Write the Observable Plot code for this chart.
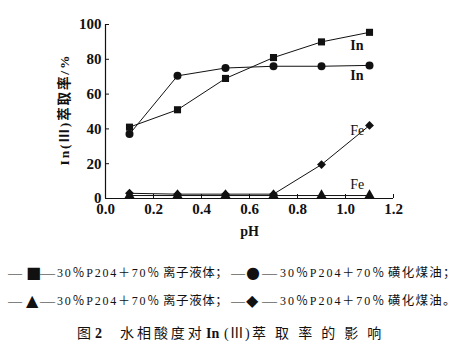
<!DOCTYPE html>
<html><head><meta charset="utf-8">
<script src="https://cdn.jsdelivr.net/npm/d3@7"></script>
<script src="https://cdn.jsdelivr.net/npm/@observablehq/plot@0.6"></script>
<style>
body{margin:0;background:#fff;width:457px;height:353px;overflow:hidden;font-family:"Liberation Serif","Noto Sans CJK SC",serif;color:#111;}
#chart svg{display:block;}
.seg{position:absolute;white-space:nowrap;}
.sym{font-family:"DejaVu Sans",sans-serif;}
</style></head>
<body>
<div id="chart"></div>
<div id="notes"></div>
<script>
const ph = [0.1, 0.3, 0.5, 0.7, 0.9, 1.1];
const inIonic = [41, 51, 69, 81, 90, 95.5];
const inKerosene = [37, 70.5, 75, 76, 76, 76.5];
const feIonic = [1.7, 1.7, 1.7, 1.7, 1.7, 1.7];
const feKerosene = [3, 2.5, 2.5, 2.5, 19.5, 42];
const xTicks = [0, 0.2, 0.4, 0.6, 0.8, 1.0, 1.2];
const yTicks = [0, 20, 40, 60, 80, 100];
const seriesNames = ["inIonic", "inKerosene", "feIonic", "feKerosene"];
const seriesSymbols = ["square", "circle", "triangle", "diamond2"];
const seriesVals = [inIonic, inKerosene, feIonic, feKerosene];
const labels = [
  {x: 1.02, y: 88, t: "In", bold: true},
  {x: 1.02, y: 70.5, t: "In", bold: true},
  {x: 1.02, y: 39, t: "Fe", bold: false},
  {x: 1.02, y: 8, t: "Fe", bold: false}
];
const yLabel = "In(Ⅲ)萃取率/%";
const xLabel = "pH";
const legendSymbols = ["■", "●", "▲", "◆"];
const legendSolvent = ["30％P204＋70％", "30％P204＋70％", "30％P204＋70％", "30％P204＋70％"];
const legendName = ["离子液体；", "磺化煤油；", "离子液体；", "磺化煤油。"];
const captionParts = ["图", "2", "水相酸度对", "In", "(Ⅲ)", "萃取率的影响"];
const FF = "'Liberation Serif', 'Noto Sans CJK SC', serif";

const data = seriesNames.flatMap((s, i) => ph.map((p, j) => ({s, sym: seriesSymbols[i], x: p, y: seriesVals[i][j]})));

const plot = Plot.plot({
  width: 457, height: 250,
  marginLeft: 105, marginRight: 64, marginTop: 24, marginBottom: 52,
  style: {fontFamily: FF, background: "#fff", color: "#111"},
  x: {domain: [0, 1.2], ticks: xTicks, tickFormat: d3.format(".1f"), label: null},
  y: {domain: [0, 100], ticks: yTicks, label: null},
  symbol: {domain: seriesSymbols, range: seriesSymbols},
  marks: [
    Plot.axisX({ticks: xTicks, tickFormat: d3.format(".1f"), tickSize: -4, tickPadding: 9, fontSize: 15, fontWeight: "bold", fontFamily: FF, label: null}),
    Plot.axisY({ticks: yTicks, tickSize: -4, tickPadding: 8, fontSize: 15, fontWeight: "bold", fontFamily: FF, label: null}),
    Plot.ruleY([0], {stroke: "#111", strokeWidth: 1.2}),
    Plot.ruleX([0], {stroke: "#111", strokeWidth: 1.2}),
    Plot.line(data, {x: "x", y: "y", z: "s", stroke: "#111", strokeWidth: 1}),
    Plot.dot(data, {x: "x", y: "y", symbol: "sym", fill: "#111", r: 4}),
    Plot.text(labels.filter(d => d.bold), {x: "x", y: "y", text: "t", fontSize: 14, fontWeight: "bold", fontFamily: FF, textAnchor: "start", fill: "#111"}),
    Plot.text(labels.filter(d => !d.bold), {x: "x", y: "y", text: "t", fontSize: 14, fontFamily: FF, textAnchor: "start", fill: "#111"}),
    Plot.text([xLabel], {frameAnchor: "bottom", dy: 37, text: d => d, fontSize: 14, fontWeight: "bold", fontFamily: FF, fill: "#111"}),
    Plot.text([yLabel], {frameAnchor: "left", textAnchor: "middle", dx: -41, dy: -1, rotate: -90, text: d => d, fontSize: 13.5, fontWeight: "bold", fontFamily: FF, fill: "#111"})
  ]
});
document.getElementById("chart").appendChild(plot);
// stretch the y-axis title to the reference's length
d3.select(plot).selectAll("text").filter(function () { return this.textContent === yLabel; })
  .attr("textLength", 110).attr("lengthAdjust", "spacing");

// legend & caption text, laid out segment by segment
const notes = document.getElementById("notes");
function seg(t, x, w, cy, size, opts = {}) {
  const el = document.createElement("span");
  el.className = "seg" + (opts.sym ? " sym" : "");
  el.textContent = t;
  el.style.fontSize = size + "px";
  el.style.lineHeight = size + "px";
  el.style.left = x + "px";
  el.style.top = (cy - size / 2) + "px";
  if (opts.bold) el.style.fontWeight = "bold";
  notes.appendChild(el);
  if (w && t.length > 1) {
    const cw = el.getBoundingClientRect().width;
    el.style.letterSpacing = ((w - cw) / (t.length - 0.6)) + "px";
  } else if (w && t.length === 1) {
    const cw = el.getBoundingClientRect().width;
    if (cw > 0) { el.style.display = "inline-block"; el.style.transformOrigin = "left center"; el.style.transform = `scaleX(${w / cw})`; }
  }
}
const halves = [
  {dash1: 8, sym: 26, dash2: 40, sol: 57, name: 163, nameW: 65},
  {dash1: 231, sym: 246, dash2: 262, sol: 280, name: 388, nameW: 68}
];
[273, 301].forEach((cy, row) => {
  halves.forEach((h, k) => {
    const i = row * 2 + k;
    seg("—", h.dash1, 14, cy, 12);
    seg(legendSymbols[i], h.sym, null, cy, 16, {sym: true});
    seg("—", h.dash2, 15, cy, 12);
    seg(legendSolvent[i], h.sol, k === 0 ? 103 : 105, cy, 12);
    seg(legendName[i], h.name, h.nameW, cy, 12.5);
  });
});
const capCy = 334;
seg(captionParts[0], 77, null, capCy, 14);
seg(captionParts[1], 95, null, capCy, 14, {bold: true});
seg(captionParts[2], 120, 83, capCy, 14);
seg(captionParts[3], 206, null, capCy, 14, {bold: true});
seg(captionParts[4], 224, 26, capCy, 14);
seg(captionParts[5], 252, 133, capCy, 14);
</script>
</body></html>
